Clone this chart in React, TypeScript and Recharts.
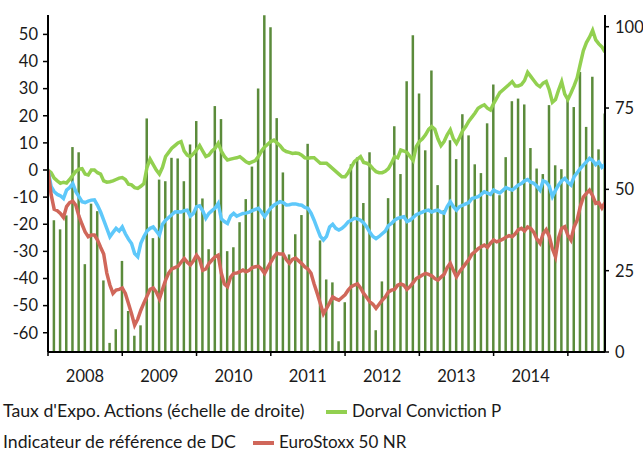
import React from "react";
import { ComposedChart, Bar, Line, XAxis, YAxis } from "recharts";

// half-month grid, 0 = Jan 2008, 90 = Jul 2015
const monthSteps = Array.from({ length: 181 }, (_, i) => i / 2);

const yearTicks = [0, 12, 24, 36, 48, 60, 72, 84];
const yearLabels = ["2008", "2009", "2010", "2011", "2012", "2013", "2014"];
const leftTicks = [-60, -50, -40, -30, -20, -10, 0, 10, 20, 30, 40, 50];
const rightTicks = [0, 25, 50, 75, 100];

// Taux d'Expo. Actions, one value per month (right scale)
const expo = [
  22, 40.5, 37.7, 42, 63, 61.4, 27, 45.6, 43.3, 22,
  2.8, 7, 28, 12.6, 5, 8.2, 71.8, 35, 53, 52.5,
  59.7, 59.5, 52.5, 63.8, 71, 47.2, 31.6, 75.6, 71.6, 31,
  32.2, 39.9, 47, 57, 81, 103.5, 99.8, 71.9, 55.2, 30,
  36.2, 42.1, 64, 0.5, 34.3, 22.3, 21.4, 3.3, 15.3, 57.7,
  59.8, 45.8, 61.4, 6.7, 21.7, 47.3, 69.4, 54.7, 83.2, 97.4,
  79.5, 62, 86.5, 51.3, 43.6, 65.1, 59.3, 73.1, 66.6, 57.7,
  55, 70.3, 82.2, 48.2, 59.9, 77.1, 77.9, 76.1, 62.7, 56.4,
  54.7, 75.9, 57.4, 56.2, 77.9, 75.3, 86.1, 69.2, 84.6, 62.3,
  73.3,
];

// Dorval Conviction P, every half month (left scale)
const dorval = [
  0, -1, -3, -4, -4.9, -4.5, -4.8, -3.5, -2, -0.5, 0.3, 0.5, -1.5, -1.8, 0, 0, -1, -1.5, -4, -4.5, -4.3, -4, -3.5, -3,
  -2.8, -3.5, -5.2, -5.5, -6.5, -6.8, -6, -5, 1, 4, 2, 0, -1.5, 1, 5, 6.5, 8, 9, 10, 10.5, 7, 5.5, 4.9, 6,
  7.4, 9, 7, 5, 5.5, 7, 8, 9.8, 7, 5, 3.7, 4, 4.3, 4.5, 4.9, 4, 3, 2.5, 3, 3.5, 5, 7, 8.5, 9.5,
  10.5, 11, 10, 9, 7.5, 6.8, 6.5, 6.1, 6.3, 6.1, 5.5, 4.5, 4.3, 4.5, 4.5, 3.5, 2.5, 2.5, 2.5, 1.5, 0.5, -0.5, -1.5, -2.5,
  -2.5, -1, 1, 3.1, 4, 4.9, 2.8, 2.5, 1.8, 0.5, -0.6, -1, -1, -0.5, 0.5, 2.5, 4.9, 4.5, 7.4, 7, 6.5, 5, 3.5, 8.6,
  10.5, 11.5, 13, 15, 16, 15, 11.5, 9, 10.5, 13, 14.8, 11.5, 9.8, 12, 14.5, 16, 18, 19.5, 21, 22.8, 23.5, 24, 22.8, 22.1,
  24.5, 26.5, 28.5, 29.5, 30.5, 31.5, 32.6, 31, 31, 31.5, 33, 36, 34.5, 33, 31.5, 30.7, 32, 32.6, 29.5, 25, 26, 29.5, 32.6, 28,
  26, 28.4, 31, 34, 39, 44, 47, 49, 51.5, 48, 46.5, 45.4, 43.5,
];

// Indicateur de référence de DC
const indicateur = [
  0, -6, -8, -9, -9.5, -10.5, -7.4, -6.5, -5, -8, -9.8, -11.7, -12, -11.5, -11.1, -11, -13, -15.5, -18.5, -21.5, -24.6, -23, -21.5, -22.5,
  -21, -23.5, -25.5, -27.1, -30.8, -32, -27, -24.5, -22.5, -21.5, -21, -22.5, -24, -20, -18.5, -17.5, -16.5, -15.5, -15.4, -15.5, -15, -14.8, -17, -16,
  -13.5, -13.2, -15, -17.8, -16, -15, -14, -12.3, -18, -19, -19.7, -17, -16, -17, -16.5, -16, -15.9, -15.5, -15, -14.5, -14.1, -15.5, -17.2, -15.5,
  -14, -13, -12.3, -11.7, -12, -12.9, -12.8, -12.5, -12.5, -12.8, -13, -13.8, -14.1, -15.9, -18.5, -21.5, -24.5, -25.8, -24.5, -21, -20, -21.5, -22.1, -21.5,
  -20.5, -19.1, -18.5, -17.8, -18, -18.5, -19.5, -21, -23, -24.5, -25.3, -24.5, -23.5, -22.5, -20.5, -19.7, -18.5, -17.8, -17.5, -17.2, -19, -18.5, -17.5, -16.5,
  -16, -15.5, -15, -14.8, -15.5, -15, -14.8, -15.5, -15.9, -13.5, -11.7, -13.5, -14.8, -13.5, -13, -12.5, -12, -10.5, -10.2, -9.8, -9, -8, -8.5, -9,
  -7.4, -8, -8.5, -7.5, -6.5, -7, -7.4, -6.5, -5.5, -5, -4, -3.5, -4.5, -4.9, -6, -7.4, -4, -4.5, -6, -9.8, -7.5, -5.5, -4, -3.1,
  -4.5, -5.5, -2.5, -1, 0.5, 1.8, 3, 4.3, 3.5, 2, 3, 1, 2,
];

// EuroStoxx 50 NR
const eurostoxx = [
  0, -9, -14.5, -15, -16, -17.5, -13.5, -12, -11.5, -13, -17, -20, -22.8, -24.6, -24, -24, -25.8, -28.5, -31, -38, -42.4, -45.5, -44.3, -44,
  -43.5, -45.5, -49.2, -53, -57.2, -55, -51.7, -49, -46.5, -44, -43.5, -45, -47.5, -44, -40.6, -38, -36.5, -36, -35.5, -34, -32.6, -34, -35, -33.5,
  -31.4, -33, -37, -36.5, -34.5, -33.2, -32, -31.4, -38, -42, -43, -39.5, -38.1, -38, -37.5, -36.9, -37.5, -37, -36, -35.7, -35.5, -36.5, -38.1, -36,
  -34, -32, -30.7, -31, -31, -33, -34.4, -33, -32.5, -33.5, -34.5, -35.7, -36.5, -38.1, -42, -45.5, -49.2, -53, -51, -49, -46.8, -47.5, -48, -47,
  -46, -44.3, -43, -42.4, -42, -43.5, -45.5, -47, -48.6, -49.5, -51, -49.5, -48, -46.8, -45, -44.3, -44, -42.5, -42, -42.5, -44, -43, -41.5, -40,
  -39.4, -38.7, -38.1, -38.5, -39, -40, -40.6, -39.5, -38.5, -36, -34.4, -37, -39.4, -37.5, -36, -34.5, -33, -31, -30.1, -29, -28.3, -27.7, -28.5, -27,
  -25.8, -26.5, -26, -25.5, -24.8, -24.2, -24.6, -23.5, -22, -21.5, -22.5, -21, -21.5, -23, -25.5, -27, -23.5, -22, -24.5, -29, -32, -25, -21.5, -20.9,
  -24, -25.8, -21, -18.5, -13.5, -10, -8.6, -7.4, -9.5, -12.3, -12, -14, -12,
];

const data = monthSteps.map((t, i) => ({
  t,
  expo: i % 2 === 0 ? expo[i / 2] : null,
  dorval: dorval[i],
  indicateur: indicateur[i],
  eurostoxx: eurostoxx[i],
}));

const font = "Lato, 'DejaVu Sans', sans-serif";
const textColor = "#1a1a1a";
const axisStyle = { stroke: "#000", strokeWidth: 2 };
const tickStyle = { stroke: "#000", strokeWidth: 1.5 };

function YearTick(props: any) {
  const { x, y, payload } = props;
  const idx = yearTicks.indexOf(payload.value);
  if (idx < 0 || idx >= yearLabels.length) return null;
  return (
    <text x={x + 37} y={y + 26} textAnchor="middle" fill={textColor} fontSize={16.5} fontFamily={font}>
      {yearLabels[idx]}
    </text>
  );
}

function LegendMark({ color }: { color: string }) {
  return <span style={{ display: "inline-block", width: 21, height: 4, background: color, marginRight: 5, verticalAlign: "middle", position: "relative", top: -1 }} />;
}

const legendRow = { position: "absolute" as const, left: 3, fontSize: 17, color: textColor, whiteSpace: "nowrap" as const, lineHeight: "16px", height: 16 };

export default function App() {
  return (
    <div style={{ position: "absolute", left: 0, top: 0, width: 643, height: 451, background: "#fff", fontFamily: font, overflow: "hidden" }}>
      <ComposedChart width={643} height={451} data={data} margin={{ top: 15, right: 0, bottom: 69, left: 8 }}>
        <XAxis
          dataKey="t"
          type="number"
          domain={[0, 90]}
          ticks={yearTicks}
          tick={<YearTick />}
          tickSize={4}
          tickMargin={0}
          axisLine={axisStyle}
          tickLine={tickStyle}
          height={30}
          allowDataOverflow
        />
        <YAxis
          yAxisId="left"
          domain={[-67.1, 57.15]}
          ticks={leftTicks}
          allowDataOverflow
          width={40}
          tickSize={5}
          tickMargin={5}
          axisLine={axisStyle}
          tickLine={tickStyle}
          tick={{ fill: textColor, fontSize: 16.5, fontFamily: font }}
        />
        <YAxis
          yAxisId="right"
          orientation="right"
          domain={[0, 103.6]}
          ticks={rightTicks}
          allowDataOverflow
          width={38}
          tickSize={4}
          tickMargin={6}
          axisLine={axisStyle}
          tickLine={tickStyle}
          tick={{ fill: textColor, fontSize: 16.5, fontFamily: font }}
        />
        <Bar yAxisId="right" dataKey="expo" fill="#5B8B3B" barSize={2.5} isAnimationActive={false} />
        <Line yAxisId="left" dataKey="dorval" stroke="#92D050" strokeWidth={3.5} dot={false} type="linear" isAnimationActive={false} />
        <Line yAxisId="left" dataKey="indicateur" stroke="#5EC8FA" strokeWidth={3.5} dot={false} type="linear" isAnimationActive={false} />
        <Line yAxisId="left" dataKey="eurostoxx" stroke="#D0675A" strokeWidth={3.5} dot={false} type="linear" isAnimationActive={false} />
      </ComposedChart>
      <div style={{ ...legendRow, top: 403 }}>
        <span style={{ fontSize: 17.7 }}>Taux d'Expo. Actions (échelle de droite)</span>
        <span style={{ position: "absolute", left: 323 }}>
          <LegendMark color="#92D050" />
          Dorval Conviction P
        </span>
      </div>
      <div style={{ ...legendRow, top: 434 }}>
        <span style={{ fontSize: 17.7 }}>Indicateur de référence de DC</span>
        <span style={{ position: "absolute", left: 250 }}>
          <LegendMark color="#D0675A" />
          EuroStoxx 50 NR
        </span>
      </div>
    </div>
  );
}
